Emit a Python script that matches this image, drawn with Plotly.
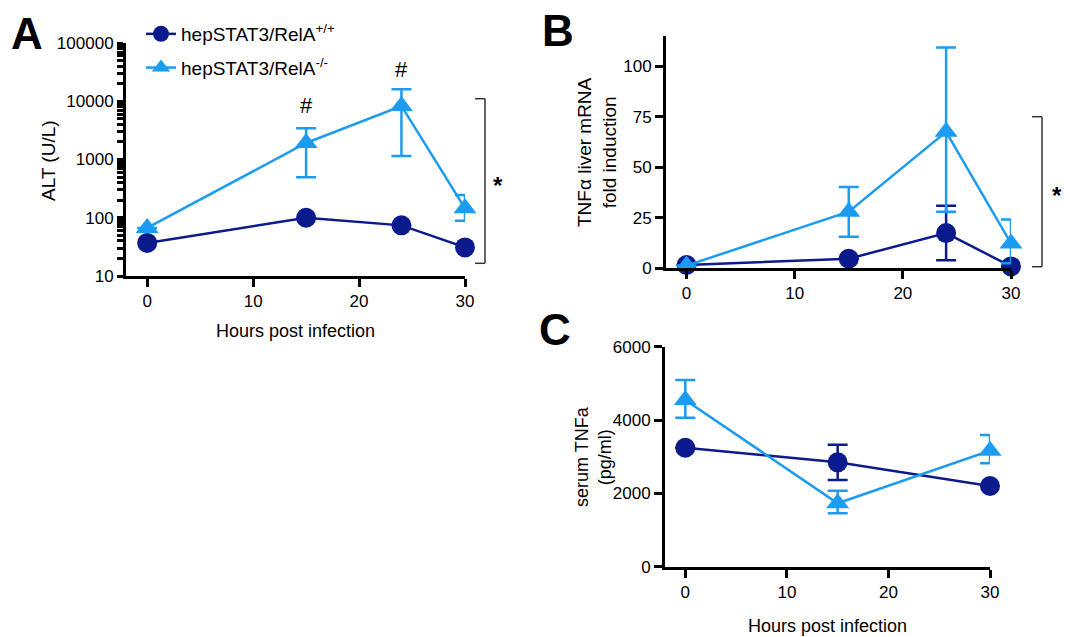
import plotly.graph_objects as go

W, H = 1070, 637
DARK = "#0b1a8c"
LIGHT = "#1b9cf0"
FONT = "Liberation Sans, Arial, sans-serif"

hours = [0, 15, 24, 30]
hours_c = [0, 15, 30]

# Panel A: ALT (U/L)
alt_wt = [37, 100, 74, 31]
alt_ko = [67, 1920, 8300, 145]
alt_ko_up = [0, 1520, 7700, 100]
alt_ko_dn = [0, 1426, 7150, 56]
alt_major = [10, 100, 1000, 10000, 100000]
alt_minor = [m * d for d in [10, 100, 1000, 10000] for m in range(2, 10)]

# Panel B: TNFa liver mRNA fold induction
tnf_wt = [1.5, 4.6, 17.3, 0.8]
tnf_wt_err = [0, 0, 13.5, 0]
tnf_ko = [1.2, 27.9, 67.5, 12.2]
tnf_ko_up = [0, 12.3, 41.8, 11.9]
tnf_ko_dn = [0, 12.4, 39.6, 9.9]

# Panel C: serum TNFa (pg/ml)
ser_wt = [3245, 2847, 2200]
ser_wt_err = [0, 480, 0]
ser_ko = [4545, 1729, 3164]
ser_ko_up = [546, 344, 427]
ser_ko_dn = [481, 273, 344]

fig = go.Figure()

def px_x(v):
    return v / W

def px_y(v):
    return 1 - v / H

mk_c = dict(symbol="circle", size=20, color=DARK, line=dict(width=0))
mk_t = dict(symbol="triangle-up", size=20, color=LIGHT, line=dict(width=0))

# A
fig.add_trace(go.Scatter(x=hours, y=alt_wt, mode="lines+markers", name="hepSTAT3/RelA<sup>+/+</sup>",
                         line=dict(color=DARK, width=2.5), marker=mk_c, xaxis="x", yaxis="y",
                         cliponaxis=False, legendgroup="wt"))
fig.add_trace(go.Scatter(x=hours, y=alt_ko, mode="lines+markers", name="hepSTAT3/RelA<sup>-/-</sup>",
                         line=dict(color=LIGHT, width=2.5), marker=mk_t, xaxis="x", yaxis="y",
                         error_y=dict(type="data", symmetric=False, array=alt_ko_up, arrayminus=alt_ko_dn,
                                      color=LIGHT, thickness=2.5, width=10),
                         cliponaxis=False, legendgroup="ko"))
# B
fig.add_trace(go.Scatter(x=hours, y=tnf_wt, mode="lines+markers", showlegend=False,
                         line=dict(color=DARK, width=2.5), marker=mk_c, xaxis="x2", yaxis="y2",
                         error_y=dict(type="data", array=tnf_wt_err, color=DARK, thickness=2.5, width=10),
                         cliponaxis=False))
fig.add_trace(go.Scatter(x=hours, y=tnf_ko, mode="lines+markers", showlegend=False,
                         line=dict(color=LIGHT, width=2.5), marker=mk_t, xaxis="x2", yaxis="y2",
                         error_y=dict(type="data", symmetric=False, array=tnf_ko_up, arrayminus=tnf_ko_dn,
                                      color=LIGHT, thickness=2.5, width=10),
                         cliponaxis=False))
# C
fig.add_trace(go.Scatter(x=hours_c, y=ser_wt, mode="lines+markers", showlegend=False,
                         line=dict(color=DARK, width=2.5), marker=mk_c, xaxis="x3", yaxis="y3",
                         error_y=dict(type="data", array=ser_wt_err, color=DARK, thickness=2.5, width=10),
                         cliponaxis=False))
fig.add_trace(go.Scatter(x=hours_c, y=ser_ko, mode="lines+markers", showlegend=False,
                         line=dict(color=LIGHT, width=2.5), marker=mk_t, xaxis="x3", yaxis="y3",
                         error_y=dict(type="data", symmetric=False, array=ser_ko_up, arrayminus=ser_ko_dn,
                                      color=LIGHT, thickness=2.5, width=10),
                         cliponaxis=False))

axis_common = dict(showline=True, linecolor="black", linewidth=3, ticks="outside", ticklen=8,
                   tickwidth=3, tickcolor="black", showgrid=False, zeroline=False, automargin=False,
                   tickfont=dict(family=FONT, size=17, color="black"))

xt = dict(tickvals=[0, 10, 20, 30], ticktext=["0", "10", "20", "30"])

alt_axis = dict(axis_common)
alt_axis.update(ticklen=6, tickwidth=2.5)
alt_tickvals = alt_major + alt_minor
alt_ticktext = [str(v) for v in alt_major] + [""] * len(alt_minor)

fig.update_layout(
    width=W, height=H, margin=dict(l=0, r=0, t=0, b=0, pad=0), autosize=False,
    paper_bgcolor="white", plot_bgcolor="white",
    font=dict(family=FONT, color="black"),
    xaxis=dict(domain=[px_x(126), px_x(465)], range=[-2, 30], anchor="y", **xt, **axis_common),
    yaxis=dict(domain=[px_y(276), px_y(43)], type="log", range=[1, 5], anchor="x",
               tickvals=alt_tickvals, ticktext=alt_ticktext, **alt_axis),
    xaxis2=dict(domain=[px_x(666), px_x(1011)], range=[-1.9, 30], anchor="y2", **xt, **axis_common),
    yaxis2=dict(domain=[px_y(268), px_y(36)], range=[0, 115], anchor="x2",
                tickvals=[0, 25, 50, 75, 100], **axis_common),
    xaxis3=dict(domain=[px_x(665), px_x(990)], range=[-2, 30], anchor="y3", **xt, **axis_common),
    yaxis3=dict(domain=[px_y(566.7), px_y(346.7)], range=[0, 6000], anchor="x3",
                tickvals=[0, 2000, 4000, 6000], **axis_common),
    legend=dict(x=px_x(141), y=px_y(15), xanchor="left", yanchor="top", bgcolor="rgba(0,0,0,0)",
                font=dict(family=FONT, size=19, color="black"), tracegroupgap=6, itemwidth=30),
)

ann = []
def text(x, y, s, size=18, bold=False, angle=0):
    ann.append(dict(x=x, y=y, xref="paper", yref="paper", text=("<b>%s</b>" % s) if bold else s,
                    showarrow=False, font=dict(family=FONT, size=size, color="black"),
                    textangle=angle, xanchor="center", yanchor="middle"))

text(px_x(27), px_y(33), "A", size=44, bold=True)
text(px_x(558), px_y(31), "B", size=44, bold=True)
text(px_x(555), px_y(329), "C", size=44, bold=True)

text(px_x(48), px_y(160), "ALT (U/L)", size=19, angle=-90)
text(px_x(295), px_y(331), "Hours post infection")
text(px_x(597), px_y(152), "TNFα liver mRNA<br>fold induction", size=19, angle=-90)
text(px_x(593), px_y(457), "serum TNFa<br>(pg/ml)", angle=-90)
text(px_x(827), px_y(626), "Hours post infection")

text(px_x(498), px_y(185), "*", size=24, bold=True)
text(px_x(1057), px_y(195), "*", size=24, bold=True)

# '#' markers above points in A (data coords, log units)
for hx, ly in [(15, 3.92), (24, 4.55)]:
    ann.append(dict(x=hx, y=ly, xref="x", yref="y", text="#", showarrow=False,
                    font=dict(family=FONT, size=22, color="black")))

fig.update_layout(annotations=ann)

shapes = []
def bracket(x, y0, y1, tick=10):
    for (a, b, c, d) in [(x, y0, x, y1), (x - tick, y0, x, y0), (x - tick, y1, x, y1)]:
        shapes.append(dict(type="line", xref="paper", yref="paper",
                           x0=px_x(a), y0=px_y(b), x1=px_x(c), y1=px_y(d),
                           line=dict(color="#333333", width=1.5)))

bracket(485, 98.7, 263.3)
bracket(1042, 116.7, 266.7)
fig.update_layout(shapes=shapes)

fig.write_html("out.html", config={"displayModeBar": False},
               post_script="document.body.style.margin='0';document.body.style.overflow='hidden';")
